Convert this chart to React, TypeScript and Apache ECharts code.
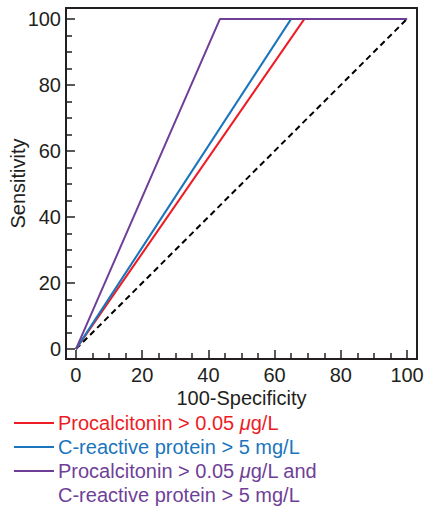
import React, { useEffect, useRef } from "react";
import * as echarts from "echarts";

const majorTicks = [0, 20, 40, 60, 80, 100];
const minorTicks = [5, 10, 15, 25, 30, 35, 45, 50, 55, 65, 70, 75, 85, 90, 95];

const refX = [0, 100];
const refY = [0, 100];
const pctX = [0, 69, 100];
const pctY = [0, 100, 100];
const crpX = [0, 65, 100];
const crpY = [0, 100, 100];
const comboX = [0, 43.5, 100];
const comboY = [0, 100, 100];

const names = [
  "Procalcitonin > 0.05 {i|μ}g/L",
  "C-reactive protein > 5 mg/L",
  "Procalcitonin > 0.05 {i|μ}g/L and",
  "C-reactive protein > 5 mg/L",
];

const RED = "#ee1c25";
const BLUE = "#1b75bc";
const PURPLE = "#6f3f98";
const INK = "#231f20";
const FONT = "'Liberation Sans', Arial, Helvetica, sans-serif";

const pairs = (xs: number[], ys: number[]) => xs.map((x, i) => [x, ys[i]]);

export default function App() {
  const ref = useRef<HTMLDivElement>(null);
  useEffect(() => {
    if (!ref.current) return;
    const chart = echarts.init(ref.current, undefined, { renderer: "svg" });
    const line = { show: true, onZero: false, lineStyle: { color: INK, width: 2 } };
    const axisCommon = {
      type: "value",
      min: -3,
      max: 103,
      splitLine: { show: false },
      axisLine: line,
    };
    const yCommon = { ...axisCommon, max: 103.3 };
    const bare = { axisTick: { show: false }, axisLabel: { show: false } };
    const legendItems: any[] = [];
    const colors = [RED, BLUE, PURPLE, PURPLE];
    const ys = [423, 447, 471, 495];
    names.forEach((t, i) => {
      if (i < 3) {
        legendItems.push({
          type: "line",
          shape: { x1: 14, y1: ys[i], x2: 54, y2: ys[i] },
          style: { stroke: colors[i], lineWidth: 2 },
        });
      }
      legendItems.push({
        type: "text",
        x: 58,
        y: ys[i],
        style: {
          text: t,
          fill: colors[i],
          font: `20px ${FONT}`,
          verticalAlign: "middle",
          rich: { i: { fill: colors[i], fontStyle: "italic", fontSize: 20, fontFamily: FONT } },
        },
      });
    });
    chart.setOption({
      animation: false,
      textStyle: { fontFamily: FONT },
      grid: {
        left: 66,
        right: 8,
        top: 8,
        height: 351,
        containLabel: false,
        outerBoundsMode: "none",
      },
      xAxis: [
        {
          ...axisCommon,
          position: "bottom",
          name: "100-Specificity",
          nameLocation: "middle",
          nameGap: 29,
          nameMoveOverlap: false,
          nameTextStyle: { color: INK, fontSize: 20, fontFamily: FONT },
          axisTick: { show: true, inside: true, length: 9, customValues: majorTicks, lineStyle: { color: INK, width: 1.5 } },
          axisLabel: { show: true, customValues: majorTicks, margin: 6, color: INK, fontSize: 20, fontFamily: FONT },
        },
        {
          ...axisCommon,
          position: "bottom",
          axisTick: { show: true, inside: true, length: 6, customValues: minorTicks, lineStyle: { color: INK, width: 1.5 } },
          axisLabel: { show: false },
        },
        { ...axisCommon, position: "top", ...bare },
      ],
      yAxis: [
        {
          ...yCommon,
          position: "left",
          name: "Sensitivity",
          nameLocation: "middle",
          nameGap: 38,
          nameMoveOverlap: false,
          nameTextStyle: { color: INK, fontSize: 20, fontFamily: FONT },
          axisTick: { show: true, inside: true, length: 9, customValues: majorTicks, lineStyle: { color: INK, width: 1.5 } },
          axisLabel: { show: true, customValues: majorTicks, margin: 5, color: INK, fontSize: 20, fontFamily: FONT },
        },
        {
          ...yCommon,
          position: "left",
          axisTick: { show: true, inside: true, length: 6, customValues: minorTicks, lineStyle: { color: INK, width: 1.5 } },
          axisLabel: { show: false },
        },
        { ...yCommon, position: "right", ...bare },
      ],
      series: [
        {
          type: "line",
          name: "Reference",
          data: pairs(refX, refY),
          showSymbol: false,
          lineStyle: { color: "#000", width: 2, type: [6, 4] },
          silent: true,
        },
        {
          type: "line",
          name: "Procalcitonin > 0.05 μg/L",
          data: pairs(pctX, pctY),
          showSymbol: false,
          lineStyle: { color: RED, width: 2 },
        },
        {
          type: "line",
          name: "C-reactive protein > 5 mg/L",
          data: pairs(crpX, crpY),
          showSymbol: false,
          lineStyle: { color: BLUE, width: 2 },
        },
        {
          type: "line",
          name: "Procalcitonin > 0.05 μg/L and C-reactive protein > 5 mg/L",
          data: pairs(comboX, comboY),
          showSymbol: false,
          lineStyle: { color: PURPLE, width: 2 },
        },
      ],
      graphic: legendItems,
    });
    return () => chart.dispose();
  }, []);
  return <div ref={ref} style={{ width: 425, height: 507, position: "absolute", left: 0, top: 0 }} />;
}
